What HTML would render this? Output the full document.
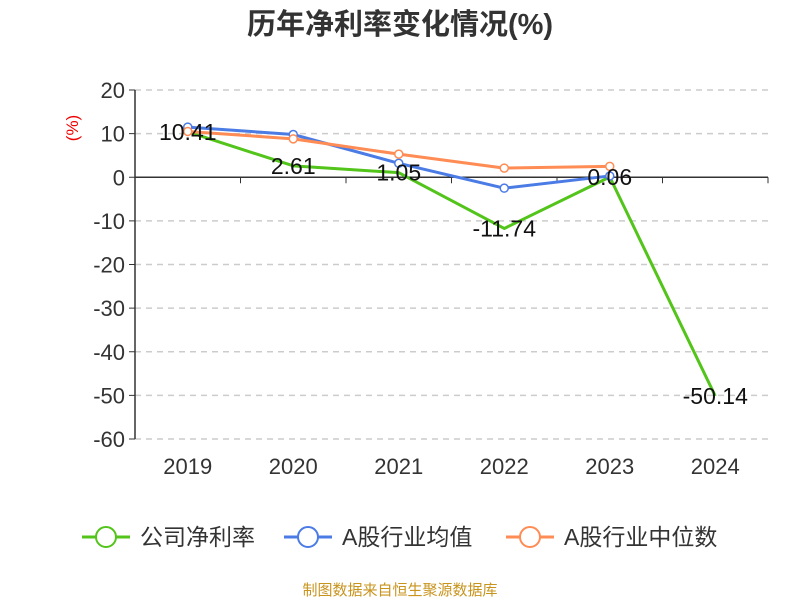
<!DOCTYPE html>
<html><head><meta charset="utf-8"><style>
body{margin:0;background:#fff;font-family:"Liberation Sans","Noto Sans CJK SC",sans-serif;}
</style></head><body>
<svg width="800" height="600" xmlns="http://www.w3.org/2000/svg" id="svg">
<text x="400" y="34" text-anchor="middle" font-size="29" font-weight="bold" fill="#333" font-family="Liberation Sans,Noto Sans CJK SC,sans-serif">历年净利率变化情况(%)</text>
<text transform="translate(78,128) rotate(-90)" text-anchor="middle" font-size="17" fill="#e00">(%)</text>
<g id="grid"></g><g id="axes"></g><g id="series"></g><g id="labels"></g>
<g font-size="23" fill="#333" font-family="Liberation Sans,Noto Sans CJK SC,sans-serif">
<g><line x1="82" y1="537" x2="130" y2="537" stroke="#52c41a" stroke-width="3"/><circle cx="106" cy="537" r="10" fill="#fff" stroke="#52c41a" stroke-width="2"/><text x="140" y="545">公司净利率</text></g>
<g><line x1="284" y1="537" x2="332" y2="537" stroke="#4b7be5" stroke-width="3"/><circle cx="308" cy="537" r="10" fill="#fff" stroke="#4b7be5" stroke-width="2"/><text x="342" y="545">A股行业均值</text></g>
<g><line x1="506" y1="537" x2="554" y2="537" stroke="#ff8c55" stroke-width="3"/><circle cx="530" cy="537" r="10" fill="#fff" stroke="#ff8c55" stroke-width="2"/><text x="564" y="545">A股行业中位数</text></g>
</g>
<text x="400" y="595" text-anchor="middle" font-size="15" fill="#c8941e" font-family="Liberation Sans,Noto Sans CJK SC,sans-serif">制图数据来自恒生聚源数据库</text>
</svg>
<script>
const categories=["2019","2020","2021","2022","2023","2024"];
const netMargin=[10.41,2.61,1.05,-11.74,0.06,-50.14];
const industryAvg=[11.5,9.8,3.2,-2.5,0.3];
const industryMedian=[10.5,8.8,5.3,2.1,2.5];
const yTicks=[20,10,0,-10,-20,-30,-40,-50,-60];
const NS="http://www.w3.org/2000/svg";
const x0=135,x1=768,bw=(x1-x0)/categories.length;
const X=i=>x0+bw*(i+0.5);
const Y=v=>90+(20-v)*(439-90)/80;
function mk(t,a,p){const e=document.createElementNS(NS,t);for(const k in a)e.setAttribute(k,a[k]);p.appendChild(e);return e;}
const grid=document.getElementById('grid'),axes=document.getElementById('axes'),ser=document.getElementById('series'),lab=document.getElementById('labels');
yTicks.forEach(v=>{
  if(v!==0){const g=mk('line',{x1:x0,x2:x1,y1:Y(v),y2:Y(v),stroke:'#ccc','stroke-dasharray':'6,5','stroke-width':1.5},grid);
  }
  const tk=mk('line',{x1:x0-6,x2:x0,y1:Y(v),y2:Y(v),stroke:'#333'},axes);
  
  const t=mk('text',{x:x0-10,y:Y(v)+8,'text-anchor':'end','font-size':22,fill:'#333'},axes);t.textContent=v;
  
});
const ya=mk('line',{x1:x0,x2:x0,y1:Y(20),y2:Y(-60),stroke:'#333','stroke-width':1.5},axes);

const xa=mk('line',{x1:x0,x2:x1,y1:Y(0),y2:Y(0),stroke:'#333','stroke-width':1.5},axes);

for(let i=0;i<=categories.length;i++){const l=mk('line',{x1:x0+bw*i,x2:x0+bw*i,y1:Y(0),y2:Y(0)+6,stroke:'#333'},axes);
}
categories.forEach((c,i)=>{const t=mk('text',{x:X(i),y:474,'text-anchor':'middle','font-size':22,fill:'#333'},axes);t.textContent=c;
});
function line(arr,color,name,dots){
  const p=mk('polyline',{points:arr.map((v,i)=>X(i)+','+Y(v)).join(' '),fill:'none',stroke:color,'stroke-width':3,'stroke-linejoin':'round'},ser);
  
  if(dots)arr.forEach((v,i)=>{const c=mk('circle',{cx:X(i),cy:Y(v),r:4,fill:'#fff',stroke:color,'stroke-width':1.5},ser);
  });
}
line(netMargin,'#52c41a','net-margin',false);
line(industryAvg,'#4b7be5','industry-avg',true);
line(industryMedian,'#ff8c55','industry-median',true);
netMargin.forEach((v,i)=>{const t=mk('text',{x:X(i),y:Y(v)+8,'text-anchor':'middle','font-size':23,fill:'#111'},lab);t.textContent=v.toFixed(2);
});
</script>
</body></html>
